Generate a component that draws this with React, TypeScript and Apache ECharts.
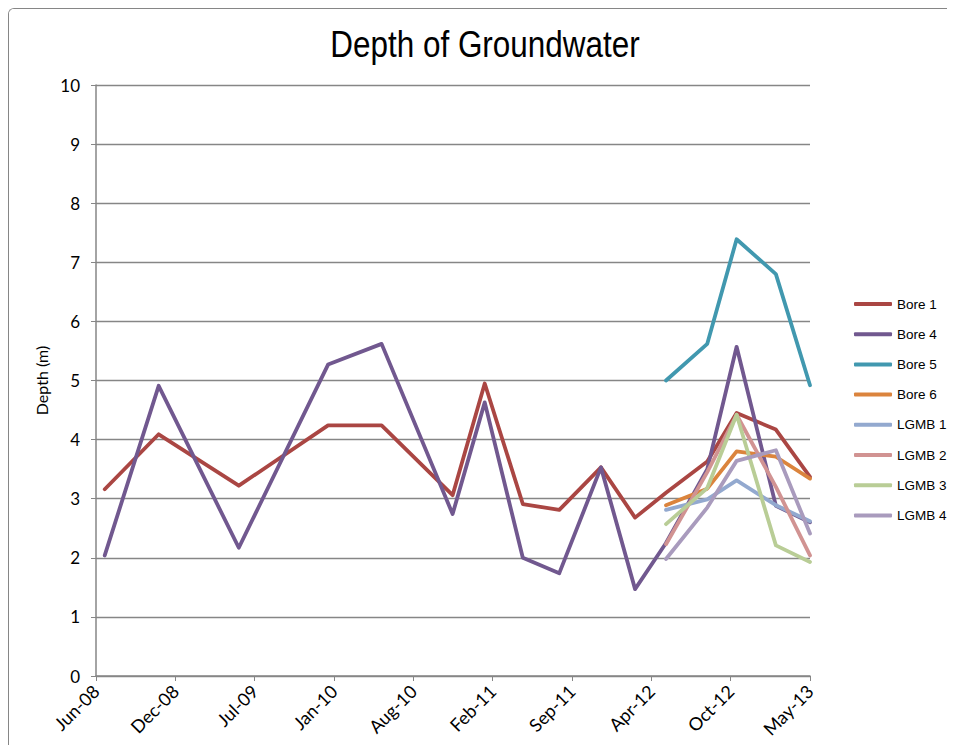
import React, { useEffect, useRef } from "react";
import * as echarts from "echarts";

const startDate = "2008-06-01";
const xTickIntervalDays = 200;
const xMaxDays = 1800;
const monthNames = ["Jan", "Feb", "Mar", "Apr", "May", "Jun", "Jul", "Aug", "Sep", "Oct", "Nov", "Dec"];

const longDates = [
  "2008-06-23", "2008-11-06", "2009-05-27", "2010-01-07", "2010-05-22",
  "2010-11-17", "2011-02-06", "2011-05-13", "2011-08-13", "2011-11-26",
  "2012-02-20", "2012-05-08", "2012-08-20", "2012-11-02", "2013-02-09", "2013-05-06",
];
const recentDates = ["2012-05-08", "2012-08-20", "2012-11-02", "2013-02-09", "2013-05-06"];

const bore1 = [3.16, 4.09, 3.22, 4.24, 4.24, 3.06, 4.95, 2.91, 2.81, 3.53, 2.68, 3.1, 3.63, 4.45, 4.17, 3.37];
const bore4 = [2.04, 4.91, 2.17, 5.27, 5.62, 2.74, 4.63, 2.0, 1.74, 3.53, 1.47, 2.25, 3.5, 5.57, 2.88, 2.6];
const bore5 = [5.0, 5.62, 7.39, 6.8, 4.92];
const bore6 = [2.89, 3.17, 3.8, 3.71, 3.34];
const lgmb1 = [2.81, 2.99, 3.31, 2.89, 2.62];
const lgmb2 = [2.23, 3.45, 4.42, 3.2, 2.04];
const lgmb3 = [2.57, 3.18, 4.42, 2.21, 1.93];
const lgmb4 = [1.98, 2.85, 3.64, 3.82, 2.41];

const seriesNames = ["Bore 1", "Bore 4", "Bore 5", "Bore 6", "LGMB 1", "LGMB 2", "LGMB 3", "LGMB 4"];
const seriesColors = ["#AA4643", "#71588F", "#4198AF", "#DB843D", "#93A9CF", "#D19392", "#B9CD96", "#A99BBD"];

const DAY = 86400000;
const toMs = (s: string) => {
  const [y, m, d] = s.split("-").map(Number);
  return Date.UTC(y, m - 1, d);
};
const startMs = toMs(startDate);
const toDays = (s: string) => Math.round((toMs(s) - startMs) / DAY);
const dayLabel = (days: number) => {
  const dt = new Date(startMs + days * DAY);
  return monthNames[dt.getUTCMonth()] + "-" + String(dt.getUTCFullYear() % 100).padStart(2, "0");
};

const W = 938;
const H = 736;

export default function App() {
  const ref = useRef<HTMLDivElement>(null);
  useEffect(() => {
    if (!ref.current) return;
    const chart = echarts.init(ref.current, null, { renderer: "svg" });
    const seriesData: [string[], number[]][] = [
      [longDates, bore1],
      [longDates, bore4],
      [recentDates, bore5],
      [recentDates, bore6],
      [recentDates, lgmb1],
      [recentDates, lgmb2],
      [recentDates, lgmb3],
      [recentDates, lgmb4],
    ];
    const axisGray = "#868686";
    chart.setOption({
      animation: false,
      backgroundColor: "#ffffff",
      graphic: [
        {
          type: "text",
          x: 476,
          y: 35,
          scaleX: 0.85,
          style: {
            text: "Depth of Groundwater",
            fontFamily: "Liberation Sans",
            fontSize: 37,
            fill: "#000",
            textAlign: "center",
            textVerticalAlign: "middle",
          },
        },
      ],
      legend: {
        orient: "vertical",
        left: 845,
        top: 288,
        padding: 0,
        icon: "roundRect",
        itemWidth: 38,
        itemHeight: 4,
        itemGap: 16.2,
        textStyle: { fontFamily: "Liberation Sans", fontSize: 13.5, color: "#000", lineHeight: 14 },
        data: seriesNames,
      },
      grid: { left: 87, top: 76, right: W - 801, bottom: 69, containLabel: false },
      xAxis: {
        type: "value",
        min: 0,
        max: xMaxDays,
        interval: xTickIntervalDays,
        splitLine: { show: false },
        axisLine: { show: true, lineStyle: { color: axisGray, width: 1.5 } },
        axisTick: { show: true, length: 5, lineStyle: { color: axisGray } },
        axisLabel: {
          rotate: 45,
          margin: 12,
          fontFamily: "Lato",
          fontSize: 18,
          color: "#000",
          formatter: (v: number) => dayLabel(v),
        },
      },
      yAxis: {
        type: "value",
        min: 0,
        max: 10,
        interval: 1,
        name: "Depth (m)",
        nameLocation: "middle",
        nameGap: 46,
        nameRotate: 90,
        nameTextStyle: { fontFamily: "Lato", fontSize: 16, color: "#000" },
        splitLine: { show: true, lineStyle: { color: axisGray, width: 1.3 } },
        axisLine: { show: true, lineStyle: { color: axisGray, width: 1.5 } },
        axisTick: { show: true, length: 5, lineStyle: { color: axisGray } },
        axisLabel: { margin: 16, fontFamily: "Lato", fontSize: 17, color: "#000" },
      },
      series: seriesData.map(([dates, vals], i) => ({
        name: seriesNames[i],
        type: "line",
        showSymbol: false,
        symbol: "none",
        color: seriesColors[i],
        lineStyle: { width: 3.8, color: seriesColors[i], cap: "round", join: "round" },
        data: dates.map((d, j) => [toDays(d), vals[j]]),
      })),
    });
    return () => chart.dispose();
  }, []);
  return (
    <div
      style={{
        width: W,
        height: H,
        borderLeft: "1px solid #868686",
        borderTop: "1px solid #868686",
        borderTopLeftRadius: 6,
        overflow: "hidden",
      }}
    >
      <div ref={ref} style={{ width: W, height: H }} />
    </div>
  );
}
